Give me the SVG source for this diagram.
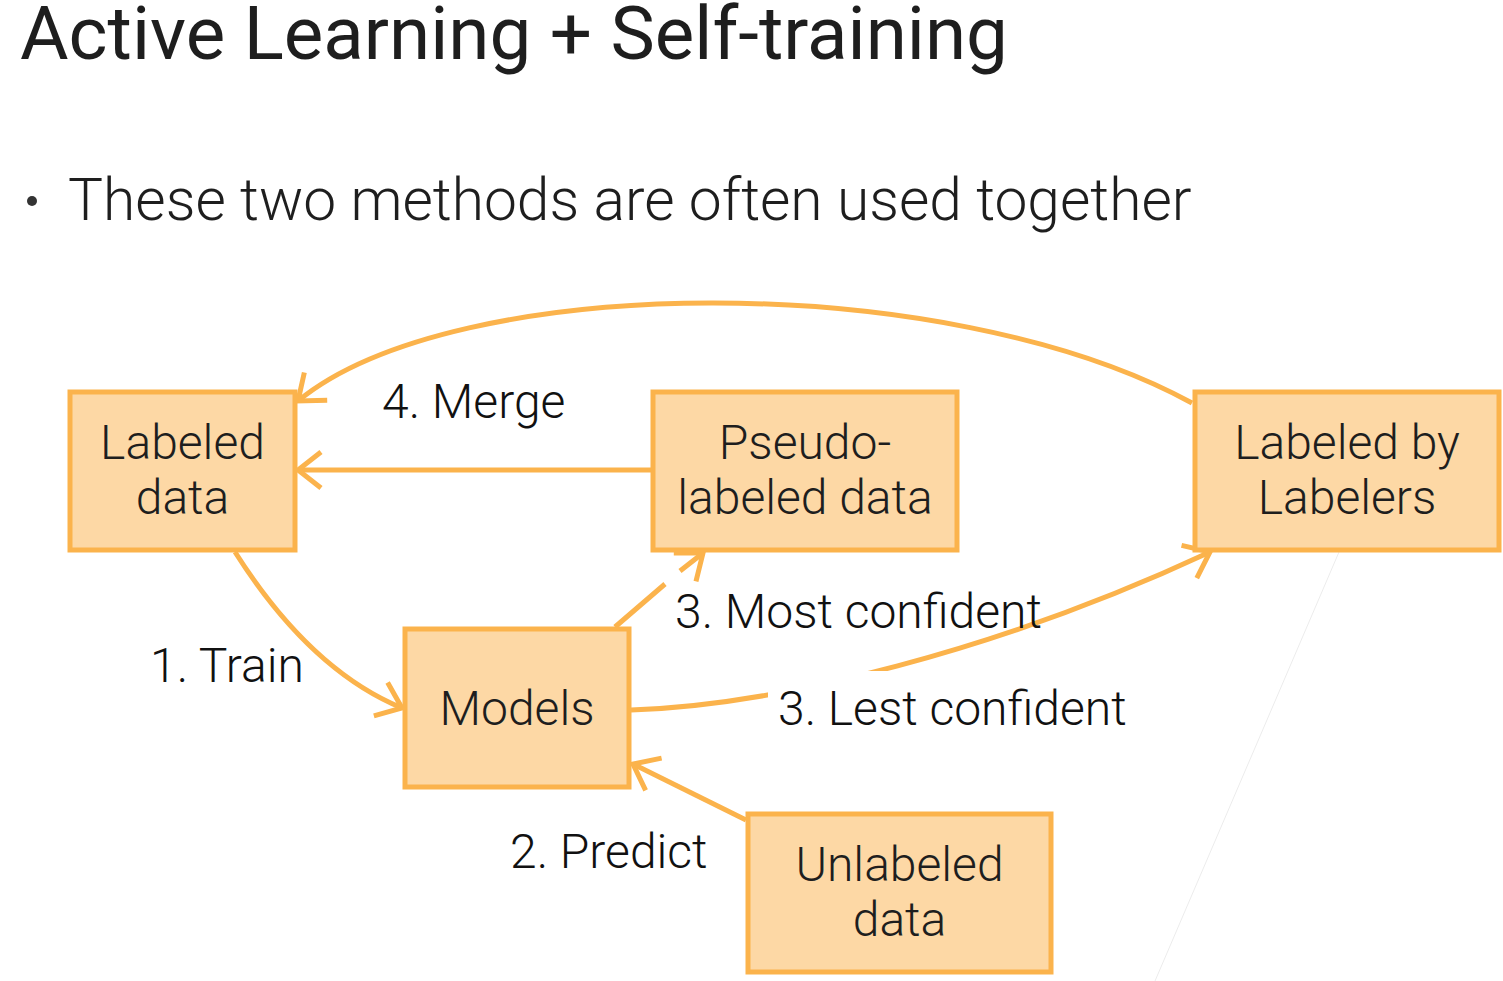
<svg xmlns="http://www.w3.org/2000/svg" width="1503" height="981" viewBox="0 0 1503 981">
<style>
.box{fill:#FDD8A5;stroke:#FBB34C;stroke-width:5}
.nt{font-family:Roboto,"Liberation Sans",sans-serif;font-weight:300;font-size:48px;fill:#1e1e1e;text-anchor:middle}
.lb{font-family:Roboto,"Liberation Sans",sans-serif;font-weight:300;font-size:48px;fill:#111}
.cn{fill:none;stroke:#FBB34C;stroke-width:5}
</style>
<defs>
<marker id="ah" markerUnits="userSpaceOnUse" viewBox="-30 -25 34 50" refX="0" refY="0" markerWidth="34" markerHeight="50" orient="auto">
<path d="M-23,-18 L0,0 L-23,18" fill="none" stroke="#FBB34C" stroke-width="5"/>
</marker>
</defs>
<rect width="1503" height="981" fill="#fff"/>
<line x1="1339" y1="552" x2="1155" y2="981" stroke="#ececec" stroke-width="1"/>
<text x="20" y="59" font-family="Roboto,'Liberation Sans',sans-serif" font-size="74.5" fill="#1e1e1e">Active Learning + Self-training</text>
<circle cx="32" cy="201" r="5" fill="#333"/>
<text x="68" y="220" font-family="Roboto,'Liberation Sans',sans-serif" font-weight="300" font-size="58.7" fill="#1e1e1e">These two methods are often used together</text>
<g id="connectors">
<path class="cn" d="M1192,403 C945,268 455,272 298,401" marker-end="url(#ah)"/>
<path class="cn" d="M652,470 L298,470" marker-end="url(#ah)"/>
<path class="cn" d="M235,552 Q310,670 402,708" marker-end="url(#ah)"/>
<path class="cn" d="M615,627 L665,584 M680,571 L703,553" marker-end="url(#ah)"/>
<path class="cn" d="M631,710 C780,705 1000,650 1210,552" marker-end="url(#ah)"/>
<path class="cn" d="M746,820 L633,764" marker-end="url(#ah)"/>
</g>
<g id="labeled-data">
<rect class="box" x="70" y="392" width="225" height="158"/>
<text class="nt" x="182.5" y="459">Labeled</text>
<text class="nt" x="182.5" y="514">data</text>
</g>
<g id="pseudo-labeled-data">
<rect class="box" x="653" y="392" width="304" height="158"/>
<text class="nt" x="805" y="459">Pseudo-</text>
<text class="nt" x="805" y="514">labeled data</text>
</g>
<g id="labeled-by-labelers">
<rect class="box" x="1195" y="392" width="304" height="158"/>
<text class="nt" x="1347" y="459">Labeled by</text>
<text class="nt" x="1347" y="514">Labelers</text>
</g>
<g id="models">
<rect class="box" x="405" y="629" width="224" height="158"/>
<text class="nt" x="517" y="725">Models</text>
</g>
<g id="unlabeled-data">
<rect class="box" x="748" y="814" width="303" height="158"/>
<text class="nt" x="899.5" y="881">Unlabeled</text>
<text class="nt" x="899.5" y="936">data</text>
</g>
<g id="labels">
<text class="lb" x="382" y="418">4. Merge</text>
<text class="lb" x="675" y="628">3. Most confident</text>
<text class="lb" x="150" y="682">1. Train</text>
<rect x="768" y="671" width="364" height="75" fill="#fff"/>
<text class="lb" x="778" y="725">3. Lest confident</text>
<text class="lb" x="510" y="868">2. Predict</text>
</g>
</svg>
